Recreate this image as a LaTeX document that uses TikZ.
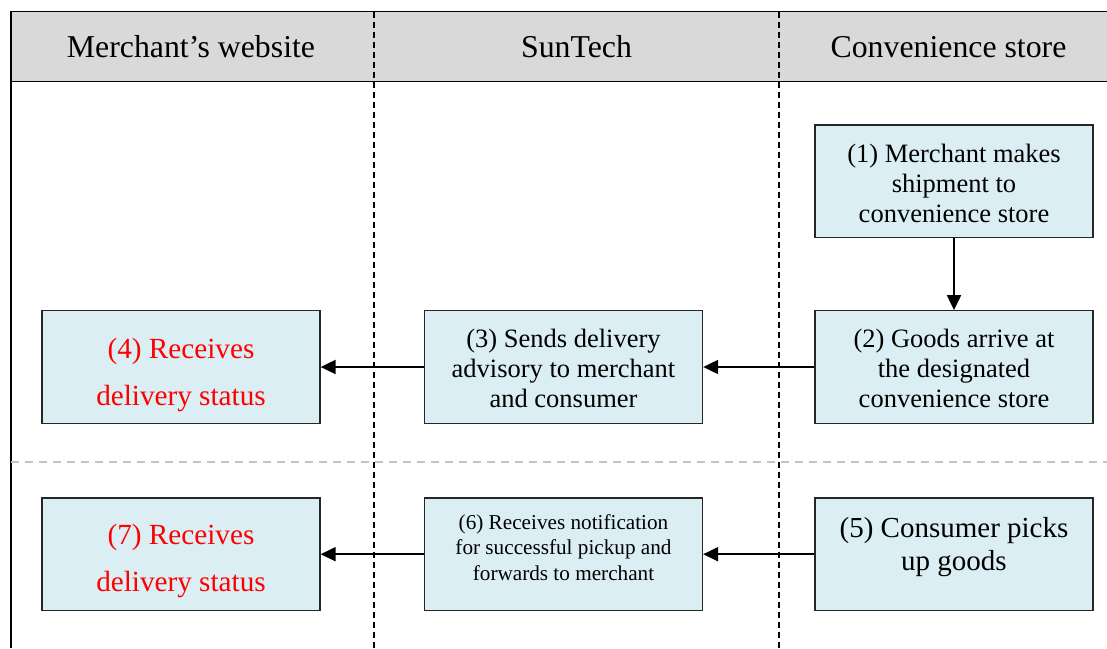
\documentclass[tikz,border=0pt]{standalone}
\usepackage{fontspec}
\setmainfont{Liberation Serif}
\usetikzlibrary{arrows.meta}
\definecolor{boxfill}{HTML}{DAEEF3}
\definecolor{headfill}{HTML}{D9D9D9}
\definecolor{sepgray}{HTML}{C4C4C4}
\definecolor{boxline}{HTML}{262626}
\definecolor{redtext}{HTML}{FF0000}
\begin{document}
\begin{tikzpicture}[x=1pt,y=-1pt,
  stepbox/.style={draw=boxline, line width=1.3pt, fill=boxfill,
    minimum width=278pt, minimum height=112.5pt, inner sep=0pt},
  boxtext/.style={align=center, inner sep=0pt},
  midfont/.style={font=\fontsize{26.5}{30}\selectfont},
  redfont/.style={text=redtext, font=\fontsize{29.2}{47}\selectfont},
  bigfont/.style={font=\fontsize{29}{33.3}\selectfont},
  smallfont/.style={font=\fontsize{21.2}{25.3}\selectfont},
  headtext/.style={anchor=base, inner sep=0pt, font=\fontsize{31.8}{38}\selectfont},
  flow/.style={line width=2pt, -{Triangle[length=15pt,width=14pt]}},
  lane/.style={line width=1.5pt, dash pattern=on 6pt off 4pt},
  frame/.style={line width=1.5pt},
]
\useasboundingbox (0,0) rectangle (1107,648);

% header band
\fill[headfill] (11,11.5) rectangle (1107,81.7);
\draw[frame] (1107,11.5) -- (11,11.5) -- (11,648);
\draw[frame] (11,81.7) -- (1107,81.7);

% separator between the two rows
\draw[sepgray, line width=1.5pt, dash pattern=on 8pt off 6pt] (11,462) -- (1107,462);

% swimlane separators
\draw[lane] (374,11.5) -- (374,648);
\draw[lane] (779,11.5) -- (779,648);

% header titles
\node[headtext] (h1) at (191,57) {Merchant’s website};
\node[headtext] (h2) at (576.5,57) {SunTech};
\node[headtext] (h3) at (948.5,57) {Convenience store};

% boxes
\node[stepbox] (b1) at (954,181.3) {};
\node[stepbox] (b2) at (954,367) {};
\node[stepbox] (b3) at (563.5,367) {};
\node[stepbox] (b4) at (181,367) {};
\node[stepbox] (b5) at (954,554.2) {};
\node[stepbox] (b6) at (563.5,554.2) {};
\node[stepbox] (b7) at (181,554.2) {};

% box texts
\node[boxtext, midfont] (t1) at (954,183.3) {(1) Merchant makes\\shipment to\\convenience store};
\node[boxtext, midfont] (t2) at (954,368.8) {(2) Goods arrive at\\the designated\\convenience store};
\node[boxtext, midfont] (t3) at (563.5,368.8) {(3) Sends delivery\\advisory to merchant\\and consumer};
\node[boxtext, redfont] (t4) at (181,375) {(4) Receives\\delivery status};
\node[boxtext, bigfont] (t5) at (954,547) {(5) Consumer picks\\up goods};
\node[boxtext, smallfont] (t6) at (563.5,547.5) {(6) Receives notification\\for successful pickup and\\forwards to merchant};
\node[boxtext, redfont] (t7) at (181,561.3) {(7) Receives\\delivery status};

% connectors
\draw[flow] (b1) -- (b2);
\draw[flow] (b2) -- (b3);
\draw[flow] (b3) -- (b4);
\draw[flow] (b5) -- (b6);
\draw[flow] (b6) -- (b7);
\end{tikzpicture}
\end{document}
